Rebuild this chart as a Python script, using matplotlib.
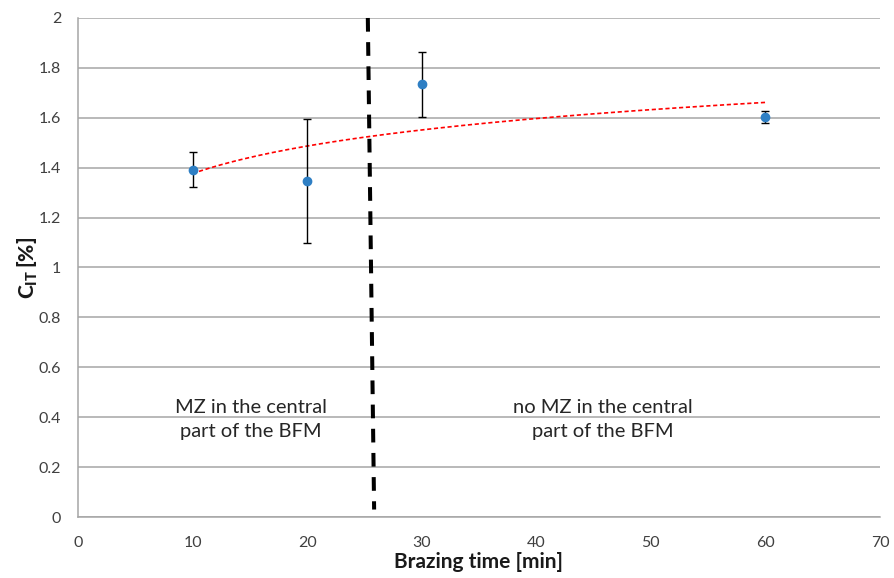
import numpy as np
import matplotlib
matplotlib.use("Agg")
import matplotlib.pyplot as plt

plt.rcParams['font.family'] = ['Lato', 'DejaVu Sans']
plt.rcParams['mathtext.fontset'] = 'custom'
plt.rcParams['mathtext.rm'] = 'Lato'
plt.rcParams['mathtext.bf'] = 'Lato:black'

# data
brazing_time = [10, 20, 30, 60]
cit = [1.391, 1.347, 1.735, 1.603]
cit_err = [0.07, 0.25, 0.13, 0.025]

boundary_x = [25.3, 25.85]
boundary_y = [2.0, 0.03]

x_ticks = [0, 10, 20, 30, 40, 50, 60, 70]
y_ticks = [0, 0.2, 0.4, 0.6, 0.8, 1.0, 1.2, 1.4, 1.6, 1.8, 2.0]
y_tick_labels = ['0', '0.2', '0.4', '0.6', '0.8', '1', '1.2', '1.4', '1.6', '1.8', '2']

left_text = "MZ in the central\npart of the BFM"
right_text = "no MZ in the central\npart of the BFM"

fig = plt.figure(figsize=(8.94, 5.78), dpi=100)
ax = fig.add_axes([0.0872, 0.1055, 0.8971, 0.8634])

ax.set_xlim(0, 70)
ax.set_ylim(0, 2)
ax.set_xticks(x_ticks)
ax.set_yticks(y_ticks)
ax.set_yticklabels(y_tick_labels)
ax.tick_params(length=0, labelsize=11.5, colors='#404040')
ax.tick_params(axis='y', pad=12)
ax.tick_params(axis='x', pad=14)

ax.grid(axis='y', color='#a6a6a6', linewidth=1.1)
ax.set_axisbelow(True)
for s in ['top', 'right']:
    ax.spines[s].set_visible(False)
for s in ['left', 'bottom']:
    ax.spines[s].set_color('#a6a6a6')
    ax.spines[s].set_linewidth(1.1)

# log trendline fitted to the data
a, b = np.polyfit(np.log(brazing_time), cit, 1)
xt = np.linspace(min(brazing_time), max(brazing_time), 200)
ax.plot(xt, a * np.log(xt) + b, color='#ff0000', linestyle=(0, (2.5, 1.6)), linewidth=1.2, zorder=3)

ax.errorbar(brazing_time, cit, yerr=cit_err, fmt='o', color='#2e7fc4', markersize=6,
            ecolor='black', elinewidth=1.0, capsize=3, capthick=1.0, zorder=4)

ax.plot(boundary_x, boundary_y, color='black', linewidth=2.9, linestyle=(0, (3.4, 2.6)), zorder=5, clip_on=False)

ax.text(15.1, 0.39, left_text, ha='center', va='center', fontsize=14.5, color='#262626', linespacing=1.5)
ax.text(45.8, 0.39, right_text, ha='center', va='center', fontsize=14.5, color='#262626', linespacing=1.5)

ax.set_xlabel('Brazing time [min]', fontsize=15, fontweight='bold', color='#1a1a1a', labelpad=1)
ax.set_ylabel(r'$\mathbf{C_{IT}\,[\%]}$', fontsize=15, color='#1a1a1a', labelpad=-1)

fig.savefig('out.png', dpi=100)
